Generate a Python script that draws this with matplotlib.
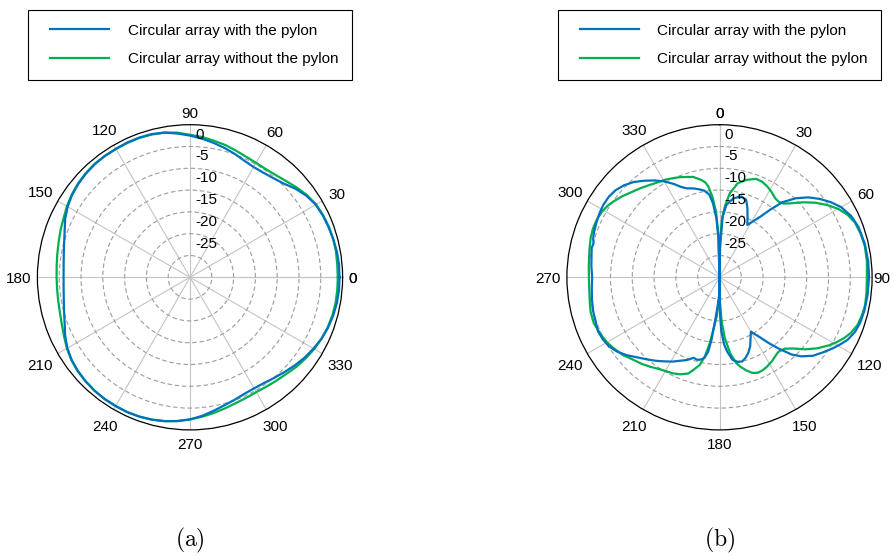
import numpy as np
import matplotlib
matplotlib.use("Agg")
import matplotlib.pyplot as plt
from matplotlib import transforms
from matplotlib.lines import Line2D
from matplotlib.legend_handler import HandlerLine2D

plt.rcParams["font.family"] = ["Liberation Sans", "DejaVu Sans"]
plt.rcParams["mathtext.fontset"] = "cm"

# ---------------------------------------------------------------- data
# (a) normalised pattern in dB, sampled every 5 degrees
angles_a = list(range(0, 361, 5))
with_pylon_a = [
    -0.7, -0.7, -0.8, -1.0, -1.2, -1.4, -1.7, -2.4, -3.4, -4.6,
    -5.3, -5.7, -5.8, -5.5, -4.9, -4.3, -3.7, -3.1, -2.5, -1.9,
    -1.3, -1.0, -0.9, -0.9, -1.0, -1.0, -1.1, -1.3, -1.6, -2.0,
    -2.6, -3.4, -4.4, -5.1, -5.6, -5.9, -6.0, -5.9, -5.6, -5.1,
    -4.4, -3.4, -2.5, -1.9, -1.5, -1.2, -1.0, -0.9, -0.9, -0.9,
    -1.0, -1.2, -1.5, -1.9, -2.4, -3.1, -3.9, -4.6, -5.1, -5.5,
    -5.6, -5.4, -4.9, -4.3, -3.6, -2.9, -2.3, -1.7, -1.3, -1.0,
    -0.8, -0.7, -0.7,
]
without_pylon_a = [
    -1.1, -1.1, -1.0, -1.0, -1.1, -1.3, -1.6, -2.2, -3.0, -3.8,
    -4.4, -4.7, -4.7, -4.5, -4.1, -3.6, -3.2, -2.7, -2.3, -1.7,
    -1.3, -1.1, -1.0, -1.0, -1.0, -1.0, -1.0, -1.2, -1.5, -1.9,
    -2.4, -3.0, -3.4, -3.8, -4.1, -4.3, -4.4, -4.4, -4.3, -4.1,
    -3.7, -3.1, -2.4, -1.8, -1.4, -1.2, -1.0, -0.9, -0.9, -0.9,
    -1.0, -1.2, -1.5, -1.9, -2.4, -2.9, -3.4, -3.9, -4.3, -4.5,
    -4.6, -4.4, -4.1, -3.7, -3.1, -2.6, -2.1, -1.7, -1.4, -1.2,
    -1.1, -1.1, -1.1,
]

# (b) normalised pattern in dB
angles_b_with = [
    0, 1, 3, 5.5, 10, 15, 19, 22, 25, 28,
    31, 34, 37, 40, 44, 48, 52, 56, 60, 65,
    70, 77, 84, 90, 97, 103, 108, 112, 116, 119,
    122, 126, 130, 134, 137, 140, 143, 146, 150, 153,
    156, 159, 162, 165, 168, 171, 174, 176, 178, 179,
    180, 181, 184, 186, 187.3, 188.7, 190.5, 192.4, 195, 198,
    200, 202, 205, 209, 213, 217, 221, 226, 230, 234,
    238, 242, 246, 250, 255, 260, 265, 270, 275, 280,
    283, 285, 287, 290, 294, 298, 302, 306, 310, 314,
    318, 322, 326, 330, 334, 337, 340, 344, 347, 350,
    353, 355, 357, 358.5, 360,
]
with_pylon_b = [
    -35, -28, -21, -18.3, -16.6, -15.8, -16.2, -17.9, -19.8, -21.4,
    -20.0, -18.2, -15.5, -12.5, -9.8, -7.6, -5.8, -4.2, -2.8, -1.7,
    -1.1, -0.8, -0.7, -0.7, -0.8, -0.9, -1.1, -1.5, -2.3, -3.3,
    -4.3, -5.7, -7.0, -8.9, -10.8, -13.5, -16.0, -18.4, -20.6, -19.3,
    -17.7, -16.5, -15.6, -15.0, -15.2, -15.8, -17.8, -19.5, -22.5, -26,
    -35, -31, -28, -24.5, -20.5, -17.7, -16.3, -15.7, -15.4, -15.6,
    -15.0, -14.5, -13.9, -12.9, -12.0, -11.0, -10.0, -8.6, -7.2, -6.0,
    -5.1, -4.7, -4.5, -4.8, -5.0, -5.3, -5.6, -5.8, -5.5, -5.2,
    -4.9, -5.1, -4.7, -4.4, -4.1, -3.8, -3.6, -3.6, -3.9, -4.6,
    -5.6, -6.9, -8.2, -9.6, -11.2, -12.5, -13.3, -13.8, -14.3, -14.8,
    -15.9, -18.0, -21.5, -26, -35,
]
angles_b_without = [
    0, 1, 2.5, 4.3, 7, 11, 15.5, 20.5, 24, 28,
    31.5, 35, 38, 41, 44, 48, 52, 56, 60, 64,
    68, 73, 78, 84, 90, 96, 101, 105, 109, 113,
    116, 119, 122, 126, 130, 134, 137.5, 140, 142, 145,
    148, 152, 155, 158, 161, 164, 167, 169, 172, 175,
    177, 179, 180, 181, 184, 186.8, 188.4, 190.5, 192.7, 195.8,
    198, 202, 206, 210, 214, 218, 222, 227, 231, 236,
    240, 244, 250, 255, 259, 265, 270, 275, 282, 287,
    291, 295, 299, 303, 306, 310, 314, 318, 322, 326,
    331, 335, 338.4, 342, 345.3, 349.5, 351.5, 353, 355, 357,
    358.5, 360,
]
without_pylon_b = [
    -35, -27, -21.5, -18.7, -15.6, -13.0, -11.8, -10.9, -11.0, -11.5,
    -12.1, -12.8, -13.0, -12.6, -11.4, -9.3, -7.2, -5.3, -3.6, -2.3,
    -1.5, -1.1, -0.9, -1.0, -1.2, -1.1, -1.0, -1.2, -1.5, -2.3,
    -3.2, -4.3, -5.5, -7.3, -9.3, -11.5, -12.8, -13.1, -13.2, -12.8,
    -12.3, -11.8, -11.5, -11.4, -11.8, -12.8, -14.0, -15.0, -17.4, -21.0,
    -24.5, -29, -35, -30, -26, -22.8, -19.7, -16.5, -14.4, -12.9,
    -11.8, -11.0, -10.5, -10.2, -9.7, -9.0, -8.3, -7.5, -6.6, -5.8,
    -5.2, -4.8, -4.3, -4.4, -4.7, -5.0, -5.05, -4.9, -4.5, -4.1,
    -3.9, -3.9, -4.1, -4.6, -5.2, -6.0, -6.9, -7.6, -8.3, -8.9,
    -9.4, -9.9, -10.3, -10.8, -11.2, -12.3, -13.0, -14.0, -16.5, -20,
    -25, -35,
]

theta_ticks = list(range(0, 361, 30))
theta_labels = ["0", "30", "60", "90", "120", "150", "180",
                "210", "240", "270", "300", "330", "0"]
r_grid = [-30, -25, -20, -15, -10, -5]
r_label_values = [0, -5, -10, -15, -20, -25]
r_min, r_max = -35, 0

series_labels = ["Circular array with the pylon",
                 "Circular array without the pylon"]
color_with = "#0072BD"
color_without = "#00B050"

# ---------------------------------------------------------------- figure
W, H = 893, 556
fig = plt.figure(figsize=(W / 100, H / 100), dpi=100)

R_PX = 152.6
CY = 277.3
LABEL_GAP = 5.8     # pixels between the outer circle and the angle labels
LABEL_DROP = 2.0    # angle labels sit slightly low

angle_texts = []    # (text, cos, sin, extra gap) to be placed after a draw


def polar_axes(cx):
    rect = [(cx - R_PX) / W, (H - CY - R_PX) / H, 2 * R_PX / W, 2 * R_PX / H]
    return fig.add_axes(rect, projection="polar")


def style_axes(ax, zero, direction, top_theta, nudges):
    ax.set_theta_zero_location(zero)
    ax.set_theta_direction(direction)
    ax.set_ylim(r_min, r_max)
    ax.set_thetagrids(theta_ticks, [""] * len(theta_ticks))
    ax.set_rgrids(r_grid, labels=[""] * len(r_grid))
    ax.xaxis.grid(True, color="#c4c4c4", linestyle="-", linewidth=0.8)
    ax.yaxis.grid(True, color="#9c9c9c", linestyle=(0, (4, 2.5)), linewidth=0.8)
    ax.tick_params(axis="both", length=0)
    ax.spines["polar"].set_color("black")
    ax.spines["polar"].set_linewidth(0.9)

    # angle labels around the rim
    offset_deg = {"E": 0, "N": 90}[zero]
    for t, lab in zip(theta_ticks, theta_labels):
        alpha = np.deg2rad(offset_deg + direction * t)
        txt = ax.annotate(lab, xy=(np.deg2rad(t), r_max), xycoords="data",
                          xytext=(0, 0), textcoords="offset pixels",
                          ha="center", va="center", fontsize=11,
                          annotation_clip=False)
        angle_texts.append((txt, np.cos(alpha), np.sin(alpha),
                            nudges.get(t % 360, 0.0)))

    # radial level labels along the top spoke
    off = transforms.offset_copy(ax.transData, fig=fig, x=5, y=-3, units="dots")
    for v in r_label_values:
        ax.text(np.deg2rad(top_theta), v, str(v), transform=off,
                ha="left", va="top", fontsize=11, zorder=5)


def add_legend(ax, cx):
    handles = [Line2D([], [], color=color_with, lw=1.6),
               Line2D([], [], color=color_without, lw=1.6)]
    leg = ax.legend(handles, series_labels, loc="upper center",
                    bbox_to_anchor=(cx / W, 1 - 10 / H),
                    bbox_transform=fig.transFigure, borderaxespad=0,
                    frameon=True, fancybox=False, edgecolor="black",
                    framealpha=1, fontsize=11, handlelength=4.94,
                    handletextpad=0.68, borderpad=0.9, labelspacing=0.95,
                    handler_map={Line2D: HandlerLine2D(numpoints=2,
                                                       marker_pad=0.54)})
    leg.get_frame().set_linewidth(0.8)


# (a)
cx_a = 190.0
ax_a = polar_axes(cx_a)
style_axes(ax_a, "E", 1, 90, {})
ax_a.plot(np.deg2rad(angles_a), without_pylon_a, color=color_without, lw=1.6)
ax_a.plot(np.deg2rad(angles_a), with_pylon_a, color=color_with, lw=1.6)
add_legend(ax_a, cx_a)
fig.text(cx_a / W, 1 - 540 / H, r"$(\mathrm{a})$", ha="center", va="center",
         fontsize=17)

# (b)
cx_b = 719.5
ax_b = polar_axes(cx_b)
style_axes(ax_b, "N", -1, 0, {90: -5.0})
ax_b.plot(np.deg2rad(angles_b_without), without_pylon_b,
          color=color_without, lw=1.6)
ax_b.plot(np.deg2rad(angles_b_with), with_pylon_b, color=color_with, lw=1.6)
add_legend(ax_b, cx_b)
fig.text(cx_b / W, 1 - 540 / H, r"$(\mathrm{b})$", ha="center", va="center",
         fontsize=17)

# push each angle label out so that its box clears the rim
fig.canvas.draw()
renderer = fig.canvas.get_renderer()
for txt, c, s, extra in angle_texts:
    bb = txt.get_window_extent(renderer)
    d = LABEL_GAP + extra + abs(bb.width / 2 * c) + abs(bb.height / 2 * s)
    txt.xyann = (d * c, d * s - LABEL_DROP)

fig.savefig("out.png", dpi=100)
